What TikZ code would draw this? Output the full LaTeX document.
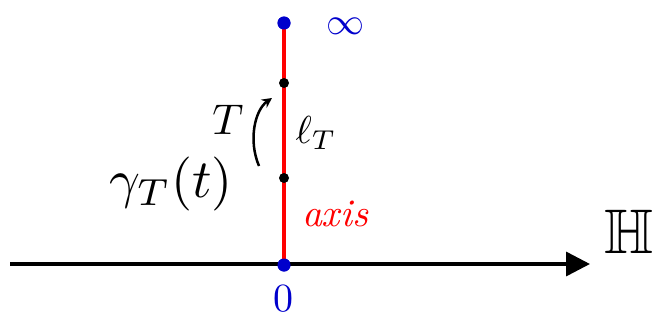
\documentclass[tikz,border=0pt]{standalone}
\usepackage{amssymb}
\usepackage{graphicx}
\usetikzlibrary{arrows.meta}
\begin{document}
\begin{tikzpicture}[x=1pt,y=-1pt,
  pt/.style={circle,fill=black,inner sep=0pt,minimum size=10pt},
  bpt/.style={circle,fill=blue!80!black,inner sep=0pt,minimum size=13pt},
  lbl/.style={inner sep=0pt}]
\useasboundingbox (0,0) rectangle (657,322);
\coordinate (L) at (10,264);
\coordinate (R) at (590,264);
\node[bpt] (o) at (284,265) {};
\node[bpt] (inf) at (284,23) {};
\draw[line width=3.5pt,-{Triangle[length=24pt,width=24pt]}] (L) -- (R);
\draw[red,line width=3.5pt] (o.center) -- (inf.center);
\node[bpt] at (o) {};
\node[bpt] at (inf) {};
\node[pt] (p1) at (284,83) {};
\node[pt] (p2) at (284,178) {};
\node[lbl,blue!80!black] (infl) at (345,26) {\scalebox{3.8}{$\infty$}};
\node[lbl,blue!80!black] (zl) at (283,299) {\scalebox{4}{$0$}};
\node[lbl,red] (ax) at (335,214) {\scalebox{3.9}{\itshape axis}};
\node[lbl] (ell) at (316,133) {\scalebox{3.9}{$\ell_T$}};
\node[lbl] (gam) at (171,184) {\scalebox{5.4}{$\gamma_T(t)$}};
\node[lbl] (T) at (228,120) {\scalebox{4.3}{$T$}};
\node[lbl,anchor=west] (H) at (604,232) {\scalebox{6.3}{$\mathbb{H}$}};
\coordinate (a1) at (259,166);
\coordinate (a2) at (272,98);
\draw[line width=2.5pt,-{Stealth[length=10pt,width=10pt]}] (a1) .. controls (248,140) and (255,110) .. (a2);
\end{tikzpicture}
\end{document}
